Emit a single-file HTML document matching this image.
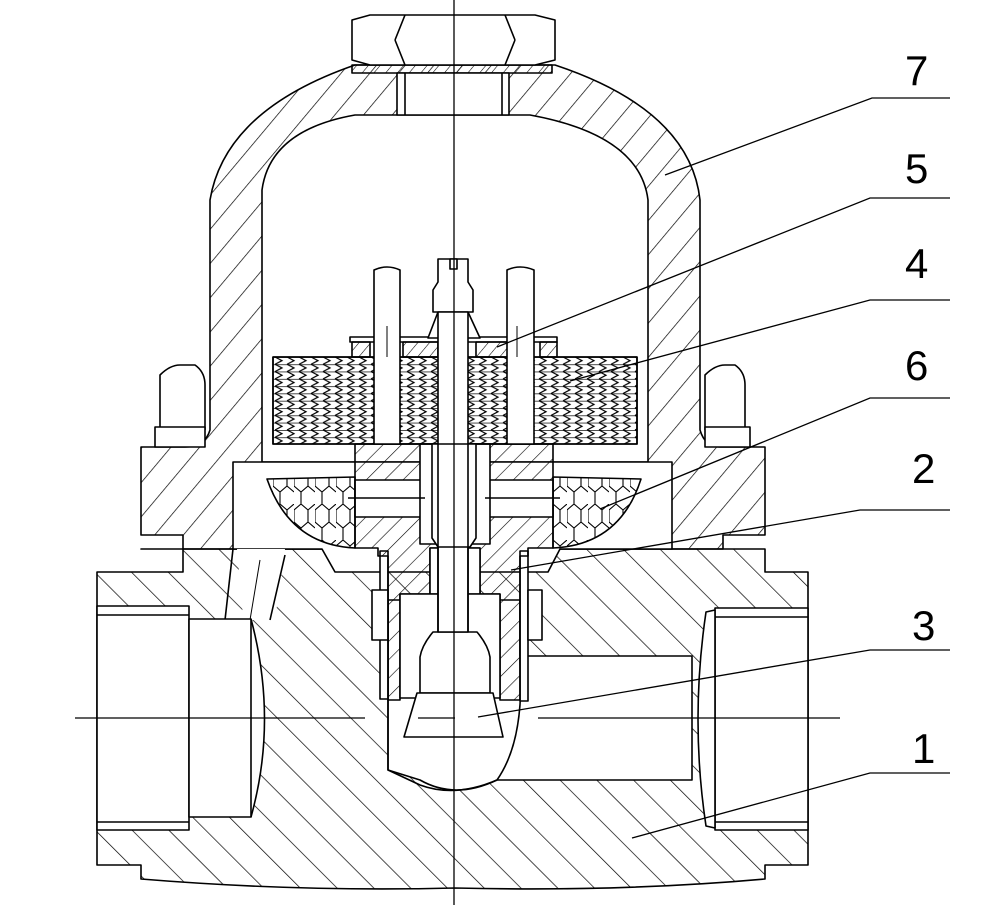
<!DOCTYPE html>
<html><head><meta charset="utf-8"><style>
html,body{margin:0;padding:0;background:#fff;width:983px;height:905px;overflow:hidden}
svg{display:block}
text{font-family:"Liberation Sans",sans-serif;font-size:42px;fill:#000}
</style></head><body>
<svg width="983" height="905" viewBox="0 0 983 905" xmlns="http://www.w3.org/2000/svg">
<defs>
<pattern id="hb" width="26" height="26" patternUnits="userSpaceOnUse" patternTransform="rotate(-45)"><line x1="0" y1="0" x2="0" y2="26" stroke="#000" stroke-width="1.4"/></pattern>
<pattern id="hf" width="22" height="22" patternUnits="userSpaceOnUse" patternTransform="rotate(40)"><line x1="0" y1="0" x2="0" y2="22" stroke="#000" stroke-width="1.4"/></pattern>
<pattern id="hs" width="9" height="9" patternUnits="userSpaceOnUse" patternTransform="rotate(40)"><line x1="0" y1="0" x2="0" y2="9" stroke="#000" stroke-width="1.1"/></pattern>
<pattern id="hd" width="13" height="13" patternUnits="userSpaceOnUse" patternTransform="rotate(45)"><line x1="0" y1="0" x2="0" y2="13" stroke="#000" stroke-width="1.2"/></pattern>
<pattern id="chev" width="12" height="7.3" patternUnits="userSpaceOnUse" x="273" y="357"><path d="M2,0 L9,3.6 L2,7.3" fill="none" stroke="#000" stroke-width="1.2"/><line x1="0" y1="0" x2="12" y2="0" stroke="#000" stroke-width="1.4"/></pattern>
<pattern id="hex" width="21" height="36" patternUnits="userSpaceOnUse"><path d="M0,6 L7,0 L14,6 L14,18 L7,24 L0,18 Z M14,18 L21,24 M7,24 L7,36 M14,6 L21,0" fill="none" stroke="#000" stroke-width="1.1"/></pattern>
</defs>
<g stroke="#000" stroke-width="1.6" stroke-linejoin="round">
<path d="M141,549 L183,549 L183,572 L97,572 L97,865 L141,865 L141,879 Q300,892 455,888 Q620,892 765,879 L765,865 L808,865 L808,572 L765,572 L765,549 L141,549 Z" fill="url(#hb)"/>
<path d="M355,65 L555,65 Q690,110 700,200 L700,430 Q705,447 720,447 L765,447 L765,535 L723,535 L723,549 L183,549 L183,535 L141,535 L141,447 L185,447 Q205,447 210,430 L210,200 Q225,110 355,65 Z" fill="url(#hf)"/>
<path d="M160,430 L160,375 Q170,365 180,365 L195,365 Q205,372 205,385 L205,430" fill="#fff"/>
<path d="M155,427 L155,447 L205,447 Q205,430 205,427 Z" fill="#fff"/>
<path d="M705,430 L705,375 Q715,365 725,365 L735,365 Q745,372 745,385 L745,430" fill="#fff"/>
<path d="M705,427 L705,447 L750,447 L750,427 Z" fill="#fff"/>
<path d="M262,462 L262,190 Q270,130 355,115 L530,115 Q640,135 648,200 L648,462 Z" fill="#fff"/>
<path d="M233,462 L672,462 L672,549 L560,549 L548,572 L335,572 L322,549 L233,549 Z" fill="#fff"/>
<path d="M237,549 L285,549 L275,620 L252,620 L246,650 Z" fill="#fff" stroke="none"/>
<line x1="233" y1="549" x2="225" y2="620"/><line x1="285" y1="555" x2="270" y2="620"/><line x1="260" y1="560" x2="245" y2="650" stroke-width="1"/>
<rect x="97" y="606" width="92" height="224" fill="#fff"/>
<line x1="97" y1="615" x2="189" y2="615"/><line x1="97" y1="822" x2="189" y2="822"/>
<path d="M189,619 L251,619 Q278,720 251,817 L189,817 Z" fill="#fff"/>
<line x1="251" y1="619" x2="251" y2="817"/>
<rect x="715" y="608" width="93" height="222" fill="#fff"/>
<line x1="715" y1="617" x2="808" y2="617"/><line x1="715" y1="822" x2="808" y2="822"/>
<path d="M715,610 L706,612 Q690,720 706,826 L715,828 Z" fill="#fff"/>
<path d="M520,656 L692,656 L692,780 L497,780 Q455,800 420,780 L388,770 L388,600 L520,600 Z" fill="#fff"/>
<path d="M388,700 L388,770 L420,785 Q455,798 497,780 Q525,740 520,660" fill="none"/>
<rect x="380" y="551" width="8" height="148" fill="#fff"/>
<rect x="520" y="551" width="8" height="150" fill="#fff"/>
<rect x="372" y="590" width="16" height="50" fill="#fff"/>
<rect x="528" y="590" width="14" height="50" fill="#fff"/>
<path d="M355,444 L553,444 L553,548 L528,548 L528,556 L520,556 L520,700 L500,700 L500,594 L480,594 L480,548 L430,548 L430,594 L400,594 L400,700 L388,700 L388,556 L378,556 L378,548 L355,548 Z" fill="url(#hd)"/>
<path d="M430,548 L480,548 L480,594 L430,594 Z" fill="#fff"/>
<rect x="400" y="594" width="100" height="104" fill="#fff"/>
<path d="M433,632 L477,632 Q488,645 490,657 L490,693 L420,693 L420,657 Q422,645 433,632 Z" fill="#fff"/>
<path d="M417,693 L493,693 L503,737 L404,737 Z" fill="#fff"/>
<rect x="355" y="480" width="68" height="37" fill="#fff"/>
<rect x="487" y="480" width="66" height="37" fill="#fff"/>
<rect x="420" y="444" width="70" height="100" fill="#fff"/>
<line x1="348" y1="498" x2="425" y2="498"/><line x1="485" y1="498" x2="560" y2="498"/>
<path d="M267,479 L355,477 L355,548 Q290,545 267,479 Z" fill="url(#hex)"/>
<path d="M553,477 L641,479 Q620,545 553,548 Z" fill="url(#hex)"/>
<rect x="273" y="357" width="364" height="87" fill="url(#chev)"/>
<rect x="273" y="357" width="364" height="87" fill="none"/>
<rect x="350" y="337" width="207" height="5" fill="#fff"/>
<rect x="352" y="342" width="18" height="15" fill="url(#hs)"/>
<rect x="403" y="342" width="35" height="15" fill="url(#hs)"/>
<rect x="476" y="342" width="32" height="15" fill="url(#hs)"/>
<rect x="540" y="342" width="17" height="15" fill="url(#hs)"/>
<path d="M374,444 L374,270 Q387,264 400,270 L400,444 Z" fill="#fff"/>
<path d="M507,444 L507,270 Q520,264 534,270 L534,444 Z" fill="#fff"/>
<line x1="387" y1="326" x2="387" y2="357" stroke-width="1"/><line x1="517" y1="326" x2="517" y2="357" stroke-width="1"/>
<path d="M438,312 L468,312 L480,338 L428,338 Z" fill="#fff"/>
<path d="M433,290 L438,282 L438,259 L468,259 L468,282 L473,290 L473,312 L433,312 Z" fill="#fff"/>
<rect x="438" y="312" width="30" height="320" fill="#fff"/>
<path d="M432,444 L476,444 L476,538 L470,547 L438,547 L432,538 Z" fill="#fff"/>
<line x1="438" y1="444" x2="438" y2="632"/><line x1="468" y1="444" x2="468" y2="632"/>
<rect x="450" y="259" width="7" height="10" fill="#fff"/>
<rect x="352" y="65" width="200" height="8" fill="url(#hs)"/>
<path d="M352,20 L370,15 L535,15 L555,20 L555,60 L535,65 L370,65 L352,60 Z" fill="#fff"/>
<line x1="405" y1="15" x2="395" y2="40"/><line x1="395" y1="40" x2="405" y2="65"/>
<line x1="505" y1="15" x2="515" y2="40"/><line x1="515" y1="40" x2="505" y2="65"/>
<rect x="397" y="73" width="112" height="42" fill="#fff"/>
<line x1="405" y1="73" x2="405" y2="115"/><line x1="502" y1="73" x2="502" y2="115"/>
</g>
<g stroke="#000" stroke-width="1.3">
<line x1="454" y1="0" x2="454" y2="905"/>
<line x1="75" y1="718" x2="365" y2="718"/><line x1="418" y1="718" x2="455" y2="718"/><line x1="538" y1="718" x2="840" y2="718"/>
</g>
<g stroke="#000" stroke-width="1.3" fill="none">
<polyline points="950,98 872,98 665,175"/>
<polyline points="950,198 870,198 497,347"/>
<polyline points="950,300 870,300 570,381"/>
<polyline points="950,398 870,398 600,509"/>
<polyline points="950,510 860,510 511,570"/>
<polyline points="950,650 870,650 478,717"/>
<polyline points="950,773 870,773 632,838"/>
</g>
<text x="905" y="85">7</text>
<text x="905" y="183">5</text>
<text x="905" y="278">4</text>
<text x="905" y="380">6</text>
<text x="912" y="483">2</text>
<text x="912" y="640">3</text>
<text x="912" y="763">1</text>
</svg>
</body></html>
